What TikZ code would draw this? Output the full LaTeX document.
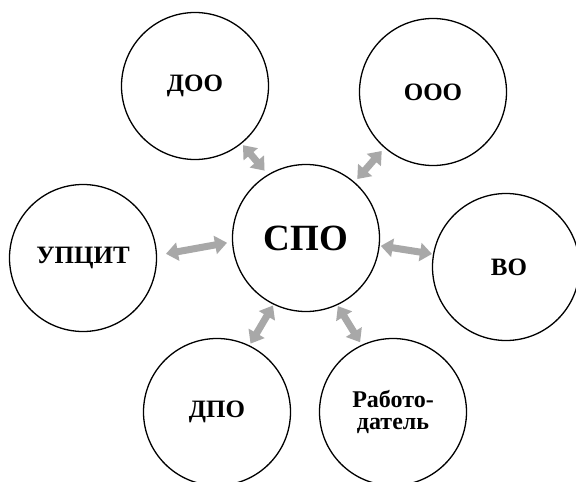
\documentclass[tikz,border=0pt]{standalone}
\usepackage{fontspec}
\setmainfont{Liberation Serif}
\usetikzlibrary{arrows.meta}
\definecolor{arrowgray}{RGB}{168,168,168}
\begin{document}
\begin{tikzpicture}[x=1pt,y=-1pt,
  ring/.style={circle,draw=black,line width=1.3pt,minimum size=147pt,inner sep=0pt,
    font=\bfseries\fontsize{25}{27}\selectfont,align=center},
  link/.style={draw=arrowgray,line width=7pt,
    {Triangle[width=18pt,length=12pt]}-{Triangle[width=18pt,length=12pt]}}]
\useasboundingbox (0,0) rectangle (576,482);
\fill[white] (0,0) rectangle (576,482);
\node[ring,font=\bfseries\fontsize{37}{40}\selectfont] (spo) at (306,238) {СПО};
\node[ring] (doo) at (195,86) {ДОО};
\node[ring] (ooo) at (433,92) {ООО};
\node[ring] (upcit) at (83,258) {УПЦИТ};
\node[ring] (vo) at (506,267) {\hspace{6pt}ВО};
\node[ring,font=\bfseries\fontsize{24}{22}\selectfont] (rab) at (393,412) {Работо-\\датель};
\node[ring] (dpo) at (217,412) {ДПО};
\draw[link,shorten <=2pt,shorten >=5pt] (doo.-51.6) -- (spo.121);
\draw[link,shorten <=4pt,shorten >=4pt] (ooo.229.6) -- (spo.49.6);
\draw[link,shorten <=9pt,shorten >=5pt] (upcit.2.8) -- (spo.183.6);
\draw[link,shorten <=1pt,shorten >=1pt] (vo.170.7) -- (spo.-6.1);
\draw[link,shorten <=2pt,shorten >=1pt] (dpo.64.4) -- (spo.244.5);
\draw[link,shorten <=3pt,shorten >=1pt] (rab.115.2) -- (spo.295.5);
\end{tikzpicture}
\end{document}
